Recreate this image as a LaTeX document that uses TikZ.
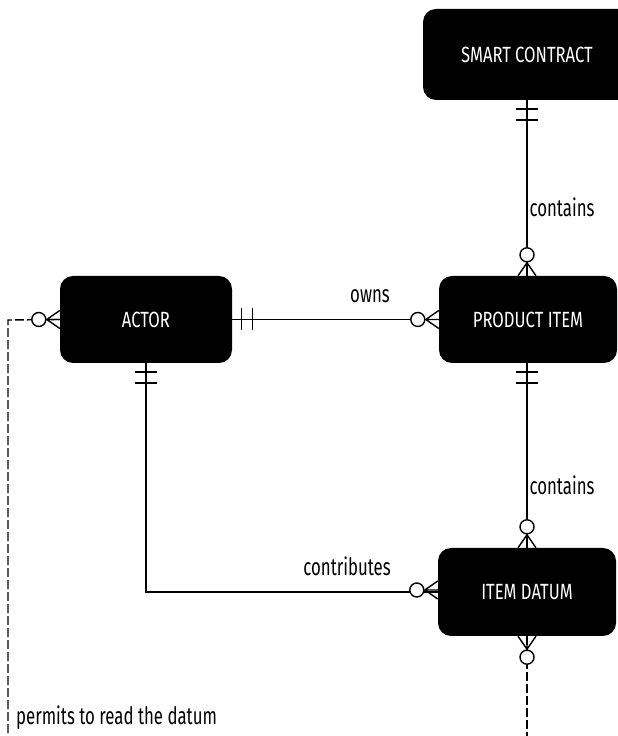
\documentclass[tikz,border=0pt]{standalone}
\usepackage{fontspec}
\setmainfont{Fira Sans}[FakeStretch=0.755]
\newfontfamily\lblfont{Fira Sans}[FakeStretch=0.70]
\usetikzlibrary{calc}
\begin{document}
\begin{tikzpicture}[x=1pt,y=1pt,
  entity/.style={fill=black,rounded corners=13pt,text=white,font=\fontsize{22}{26}\selectfont,
    inner sep=0pt,minimum height=88pt},
  lbl/.style={font=\lblfont\fontsize{24}{28}\selectfont,text=black,inner sep=0pt},
  rel/.style={line width=1.4pt},
  opt/.style={line width=1.4pt,dash pattern=on 9pt off 3pt},
  pics/onlyone/.style={code={
    \draw[line width=1.4pt] (9,-11)--(9,11) (20,-11)--(20,11);}},
  pics/zeromany/.style={code={
    \draw[line width=1.4pt] (0,-9)--(13,0)--(0,9) (0,0)--(13,0);
    \draw[line width=1.4pt,fill=white] (21,0) circle (7);}}
]
\useasboundingbox (0,0) rectangle (618,736);
\begin{scope}
\clip (0,0) rectangle (618,736);

% entities
\node[entity,minimum width=208pt,minimum height=91pt] (sc) at (527,681.5) {SMART CONTRACT};
\node[entity,minimum width=178pt,minimum height=87pt] (pi) at (528,416.5) {PRODUCT ITEM};
\node[entity,minimum width=172pt,minimum height=87pt] (actor) at (146,416.5) {ACTOR};
\node[entity,minimum width=178pt,minimum height=88pt] (id) at (527,144) {ITEM DATUM};

% helper points for the open-ended dashed relation
\coordinate (lcorner) at (8,416);
\coordinate (lend) at (8,-2);
\coordinate (dend) at (527,-2);

% relations
\draw[rel] (sc.south -| 527,0) -- (pi.north -| 527,0);
\draw[rel] (actor.east) -- (pi.west);
\draw[rel] (pi.south -| 527,0) -- (id.north -| 527,0);
\draw[rel] (actor.south) |- (id.west);
\draw[opt] (actor.west) -- (lcorner) -- (lend);
\draw[opt] (id.south) -- (dend);

% cardinality markers
\pic[rotate=-90] at (sc.south -| 527,0) {onlyone};
\pic[rotate=90] at (pi.north -| 527,0) {zeromany};
\pic at (actor.east) {onlyone};
\pic[rotate=180] at (pi.west) {zeromany};
\pic[rotate=-90] at (pi.south -| 527,0) {onlyone};
\pic[rotate=90] at (id.north -| 527,0) {zeromany};
\pic[rotate=-90] at (actor.south) {onlyone};
\pic[rotate=180] at ($(id.west)+(0,2)$) {zeromany};
\pic[rotate=-90] at (id.south) {zeromany};
\pic[rotate=180] at (actor.west) {zeromany};

% labels
\node[lbl] (lowns) at (370,440) {owns};
\node[lbl] (lcont1) at (562,529) {contains};
\node[lbl] (lcont2) at (562,251) {contains};
\node[lbl] (lcontr) at (347,170) {contributes};
\node[lbl,anchor=west] (lperm) at (16,18) {permits to read the datum};
\end{scope}
\end{tikzpicture}
\end{document}
